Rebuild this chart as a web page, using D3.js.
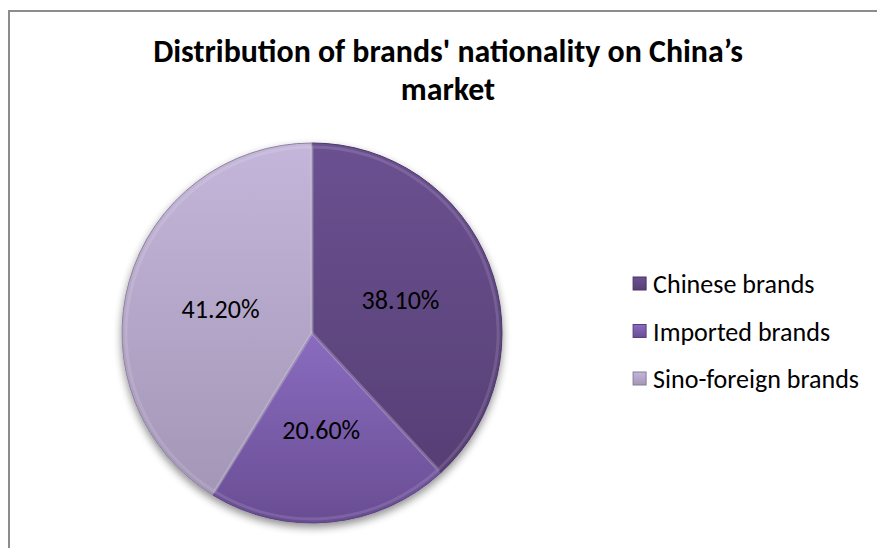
<!DOCTYPE html>
<html>
<head>
<meta charset="utf-8">
<script src="https://cdn.jsdelivr.net/npm/d3@7"></script>
<style>
  body { margin: 0; background: #fff; }
  svg { display: block; }
</style>
</head>
<body>
<svg id="chart" width="877" height="548"></svg>
<script>
// data
var categories = ["Chinese brands", "Imported brands", "Sino-foreign brands"];
var shares = [38.1, 20.6, 41.2];
var labels = ["38.10%", "20.60%", "41.20%"];
var colorsTop = ["#6b5191", "#8a6cc0", "#c4b6da"];
var colorsBottom = ["#573f75", "#694d93", "#a396b6"];
var titleLines = ["Distribution of brands' nationality on China\u2019s", "market"];

var font = "Carlito, Lato, 'Open Sans', sans-serif";
var svg = d3.select("#chart");
var defs = svg.append("defs");

// shrink or grow a text so it spans the wanted width
function fitWidth(sel, target) {
  var size = parseFloat(sel.style("font-size"));
  var w = sel.node().getComputedTextLength();
  if (w > 0) sel.style("font-size", (size * target / w).toFixed(2) + "px");
}

// frame
svg.append("rect")
  .attr("x", 9).attr("y", 11)
  .attr("width", 900).attr("height", 600)
  .attr("fill", "#fff")
  .attr("stroke", "#8c8c8c")
  .attr("stroke-width", 2);

// title
var title = svg.append("g")
  .selectAll("text")
  .data(titleLines)
  .enter()
  .append("text")
  .attr("x", 448)
  .attr("y", function (d, i) { return 62 + i * 38; })
  .attr("text-anchor", "middle")
  .style("font-family", font)
  .style("font-weight", "bold")
  .style("font-size", "24px")
  .attr("fill", "#000")
  .text(function (d) { return d; });
var t0 = d3.select(title.nodes()[0]);
fitWidth(t0, 590);
title.style("font-size", t0.style("font-size"));

// gradients
categories.forEach(function (c, i) {
  var g = defs.append("linearGradient")
    .attr("id", "grad" + i)
    .attr("x1", 0).attr("y1", 0).attr("x2", 0).attr("y2", 1);
  g.append("stop").attr("offset", "0%").attr("stop-color", colorsTop[i]);
  g.append("stop").attr("offset", "100%").attr("stop-color", colorsBottom[i]);
});

var shadow = defs.append("filter").attr("id", "shadow")
  .attr("x", "-20%").attr("y", "-20%").attr("width", "140%").attr("height", "140%");
shadow.append("feGaussianBlur").attr("in", "SourceAlpha").attr("stdDeviation", 4);
shadow.append("feOffset").attr("dx", 0).attr("dy", 4).attr("result", "blur");
shadow.append("feComponentTransfer").append("feFuncA").attr("type", "linear").attr("slope", 0.45);
var merge = shadow.append("feMerge");
merge.append("feMergeNode");
merge.append("feMergeNode").attr("in", "SourceGraphic");

// pie
var cx = 312, cy = 333, radius = 190;
var pie = d3.pie().sort(null).value(function (d) { return d; });
var arc = d3.arc().innerRadius(0).outerRadius(radius);
var labelArc = d3.arc().innerRadius(0).outerRadius(radius);
var bevelArc = d3.arc().innerRadius(0).outerRadius(radius - 4);

var pieG = svg.append("g").attr("transform", "translate(" + cx + "," + cy + ")");
var arcs = pie(shares);

pieG.append("g").attr("filter", "url(#shadow)")
  .selectAll("path")
  .data(arcs)
  .enter()
  .append("path")
  .attr("d", arc)
  .attr("fill", function (d, i) { return "url(#grad" + i + ")"; })
  .attr("stroke", function (d, i) { return d3.color(colorsBottom[i]).darker(0.4); })
  .attr("stroke-width", 1);

// soft inner bevel highlight
pieG.append("g")
  .selectAll("path")
  .data(arcs)
  .enter()
  .append("path")
  .attr("d", bevelArc)
  .attr("fill", "none")
  .attr("stroke", "#fff")
  .attr("stroke-opacity", 0.12)
  .attr("stroke-width", 3);

var pieLabels = pieG.append("g")
  .selectAll("text")
  .data(arcs)
  .enter()
  .append("text")
  .attr("transform", function (d) {
    var c = labelArc.centroid(d);
    return "translate(" + c[0] + "," + (c[1] + 11) + ")";
  })
  .attr("text-anchor", "middle")
  .style("font-family", font)
  .style("font-size", "20px")
  .attr("fill", "#000")
  .text(function (d, i) { return labels[i]; });
var l0 = d3.select(pieLabels.nodes()[0]);
fitWidth(l0, 78);
pieLabels.style("font-size", l0.style("font-size"));

// legend
var legend = svg.append("g")
  .selectAll("g")
  .data(categories)
  .enter()
  .append("g")
  .attr("transform", function (d, i) { return "translate(0," + (293 + i * 47.5) + ")"; });

var legendText = legend.append("text")
  .attr("x", 0)
  .style("font-family", font)
  .style("font-size", pieLabels.style("font-size"))
  .attr("fill", "#000")
  .text(function (d) { return d; });

// longest entry ends near the right edge; the others line up with it
var textX = 859 - legendText.nodes()[2].getComputedTextLength();
legendText.attr("x", textX);

legend.append("rect")
  .attr("x", textX - 20).attr("y", -16)
  .attr("width", 13).attr("height", 13)
  .attr("fill", function (d, i) { return "url(#grad" + i + ")"; })
  .attr("stroke", function (d, i) { return d3.color(colorsBottom[i]).darker(0.5); })
  .attr("stroke-width", 1);
</script>
</body>
</html>
